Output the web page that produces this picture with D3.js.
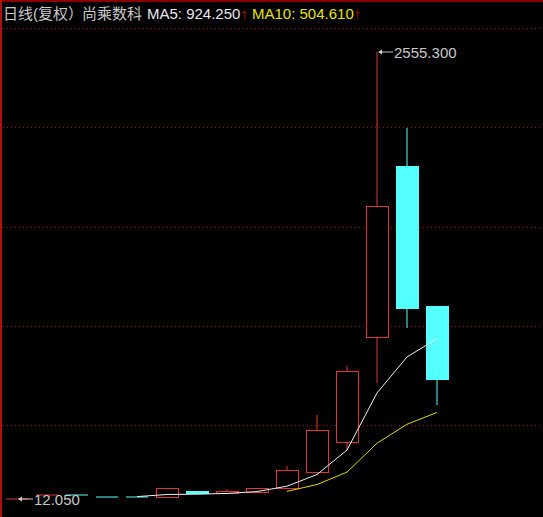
<!DOCTYPE html>
<html>
<head>
<meta charset="utf-8">
<script src="https://cdn.jsdelivr.net/npm/d3@7"></script>
<style>
  body { margin: 0; background: #000; }
  svg { display: block; }
</style>
</head>
<body>
<svg id="kline" width="543" height="517"></svg>
<script>
// Daily candles (adjusted), one entry per trading day
const days   = ["1", "2", "3", "4", "5", "6", "7", "8", "9", "10", "11", "12", "13", "14", "15"];
const opens  = [12.05, 34.8, 34.8, 23.4, 23.4, 23.4, 57, 45, 52, 74.6, 165.7, 336.3, 933.8, 1906.7, 1110];
const highs  = [12.05, 34.8, 34.8, 23.4, 23.4, 72, 57, 68.9, 76, 199.8, 490, 768.8, 2555.3, 2122.9, 1110];
const lows   = [12.05, 34.8, 34.8, 23.4, 23.4, 23.4, 44, 45, 52, 74.6, 165.7, 290.8, 672, 985, 546.9];
const closes = [12.05, 34.8, 34.8, 23.4, 23.4, 72, 44, 56, 76, 176.85, 404, 740, 1680, 1100, 697.25];

const titleText = "日线(复权）";
const stockName = "尚乘数科";

const UP = "#e03434", DOWN = "#54ffff", GRID = "#a00000";

const svg = d3.select("#kline"),
    width = +svg.attr("width"),
    height = +svg.attr("height");

const fmt = d3.format(".3f");

// moving averages of the close
function movingAvg(n) {
    return closes.map((c, i) => i < n - 1 ? null : d3.mean(closes.slice(i - n + 1, i + 1)));
}
const ma5 = movingAvg(5), ma10 = movingAvg(10);

const x = d3.scaleBand().domain(days).range([2, 452]);
const y = d3.scaleLinear()
            .domain([d3.min(lows), d3.max(highs)])
            .range([499, 52]);

// frame
svg.append("rect").attr("width", width).attr("height", height).attr("fill", "#000");
svg.append("line").attr("x1", 0).attr("x2", width).attr("y1", 1).attr("y2", 1)
   .attr("stroke", "#8a0000").attr("stroke-width", 2);
svg.append("line").attr("x1", 1).attr("x2", 1).attr("y1", 0).attr("y2", height)
   .attr("stroke", "#b01010").attr("stroke-width", 2);

// dotted grid, evenly spaced in pixel space
const gridY = [28, 127.2, 226.5, 325.7, 425];
svg.append("g").selectAll("line")
   .data(gridY)
   .join("line")
   .attr("x1", 3).attr("x2", width)
   .attr("y1", d => Math.round(d) + 0.5).attr("y2", d => Math.round(d) + 0.5)
   .attr("stroke", GRID)
   .attr("stroke-dasharray", "1,3");

// candles
const candles = days.map((d, i) => {
    let up;
    if (opens[i] !== closes[i]) up = closes[i] > opens[i];
    else up = i === 0 || closes[i] > closes[i - 1];
    return { day: d, o: opens[i], h: highs[i], l: lows[i], c: closes[i], up: up };
});

const bodyW = 22;
const g = svg.append("g");
const cx = d => x(d.day) + x.bandwidth() / 2;

// wicks
g.selectAll("line.wick-hi")
 .data(candles.filter(d => d.h > Math.max(d.o, d.c)))
 .join("line")
 .attr("x1", cx).attr("x2", cx)
 .attr("y1", d => y(d.h)).attr("y2", d => y(Math.max(d.o, d.c)))
 .attr("stroke", d => d.up ? UP : DOWN);
g.selectAll("line.wick-lo")
 .data(candles.filter(d => d.l < Math.min(d.o, d.c)))
 .join("line")
 .attr("x1", cx).attr("x2", cx)
 .attr("y1", d => y(Math.min(d.o, d.c))).attr("y2", d => y(d.l))
 .attr("stroke", d => d.up ? UP : DOWN);

// bodies
g.selectAll("rect.body")
 .data(candles.filter(d => d.o !== d.c))
 .join("rect")
 .attr("x", d => Math.round(cx(d) - bodyW / 2) + 0.5)
 .attr("width", bodyW)
 .attr("y", d => Math.round(y(Math.max(d.o, d.c))) + 0.5)
 .attr("height", d => Math.max(1, Math.round(y(Math.min(d.o, d.c))) - Math.round(y(Math.max(d.o, d.c)))))
 .attr("fill", d => d.up ? "#000" : DOWN)
 .attr("stroke", d => d.up ? UP : DOWN);

// one-price days
g.selectAll("line.flat")
 .data(candles.filter(d => d.o === d.c))
 .join("line")
 .attr("x1", d => cx(d) - bodyW / 2).attr("x2", d => cx(d) + bodyW / 2)
 .attr("y1", d => y(d.c)).attr("y2", d => y(d.c))
 .attr("stroke", d => d.up ? UP : DOWN);

// moving average lines
const maLine = arr => d3.line()
    .defined((d, i) => arr[i] !== null)
    .x((d, i) => x(days[i]) + x.bandwidth() / 2)
    .y((d, i) => y(arr[i]));
svg.append("path").datum(days).attr("d", maLine(ma5))
   .attr("fill", "none").attr("stroke", "#f0f0f0");
svg.append("path").datum(days).attr("d", maLine(ma10))
   .attr("fill", "none").attr("stroke", "#dcdc00");

// high / low markers
function marker(i, value) {
    const tx = cx(candles[i]), ty = y(value);
    svg.append("line").attr("x1", tx + 2).attr("x2", tx + 16)
       .attr("y1", ty).attr("y2", ty).attr("stroke", "#c8c8c8");
    svg.append("path")
       .attr("d", `M${tx + 1},${ty} L${tx + 5},${ty - 2.5} L${tx + 5},${ty + 2.5} Z`)
       .attr("fill", "#c8c8c8");
    svg.append("text").attr("x", tx + 17).attr("y", ty + 5.5)
       .attr("fill", "#c8c8c8")
       .style("font", "15px 'Liberation Sans', Arial, sans-serif")
       .text(fmt(value));
}
const hiIdx = d3.maxIndex(highs), loIdx = d3.minIndex(lows);
marker(hiIdx, highs[hiIdx]);
marker(loIdx, lows[loIdx]);

// title line
const title = svg.append("text").attr("y", 19)
   .style("font", "15px 'Liberation Sans', 'Noto Sans CJK SC', sans-serif");
title.append("tspan").attr("x", 3).attr("fill", "#c8c8c8").text(titleText);
title.append("tspan").attr("x", 82).attr("fill", "#c8c8c8").text(stockName);
title.append("tspan").attr("x", 147).attr("fill", "#e8e8f0").text("MA5: " + fmt(ma5[ma5.length - 1]));
title.append("tspan").attr("fill", "#d00000").text("↑");
title.append("tspan").attr("x", 252).attr("fill", "#e6e600").text("MA10: " + fmt(ma10[ma10.length - 1]));
title.append("tspan").attr("fill", "#d00000").text("↑");
</script>
</body>
</html>
